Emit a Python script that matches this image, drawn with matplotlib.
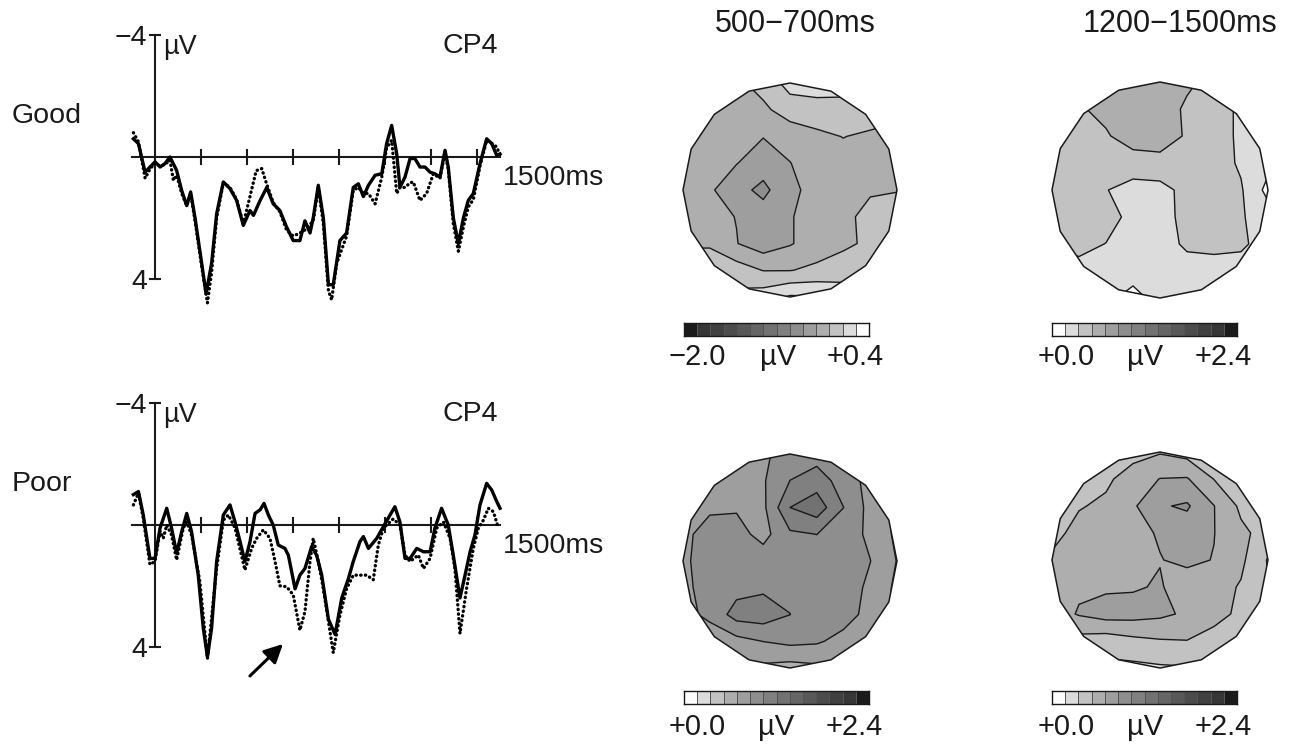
import numpy as np
import matplotlib
matplotlib.use('Agg')
import matplotlib.pyplot as plt
from matplotlib.patches import Polygon
from matplotlib.colors import ListedColormap

plt.rcParams['font.family'] = ['Liberation Sans', 'DejaVu Sans']

# ---- ERP waveforms at CP4, (time ms, amplitude uV), negative up
good_solid = [(-94, -0.6), (-72, -0.44), (-43, 0.5), (-22, 0.33), (0, 0.16), (22, 0.33), (43, 0.22),
              (65, 0.0), (94, 0.44), (116, 1.1), (138, 1.6), (155, 1.15), (174, 2.0), (203, 3.5),
              (222, 4.5), (246, 3.5), (268, 1.87), (297, 0.82), (326, 1.04), (355, 1.43), (384, 2.25),
              (413, 1.76), (428, 1.92), (457, 1.43), (486, 1.0), (514, 1.54), (543, 1.76), (572, 2.3),
              (601, 2.75), (630, 2.75), (652, 2.1), (674, 2.5), (688, 2.0), (710, 0.93), (732, 2.0),
              (754, 4.2), (775, 4.2), (804, 2.75), (833, 2.5), (862, 1.0), (884, 0.88), (906, 1.3),
              (928, 0.93), (957, 0.6), (986, 0.55), (1007, -0.44), (1029, -1.04), (1051, -0.1),
              (1065, 1.0), (1087, 0.66), (1109, 0.05), (1130, 0.05), (1152, 0.33), (1174, 0.33),
              (1196, 0.5), (1217, 0.55), (1239, 0.66), (1261, -0.22), (1275, 0.33), (1297, 2.0),
              (1319, 2.85), (1341, 2.0), (1362, 1.43), (1384, 1.2), (1413, 0.22), (1442, -0.6),
              (1464, -0.44), (1486, -0.05), (1500, -0.1)]
good_dotted = [(-94, -0.8), (-72, -0.5), (-43, 0.7), (-22, 0.4), (0, 0.2), (22, 0.3), (43, 0.25),
               (65, 0.1), (80, 0.77), (94, 0.6), (116, 1.2), (138, 1.6), (155, 1.2), (174, 2.1),
               (203, 3.6), (228, 4.8), (246, 3.8), (268, 2.0), (297, 0.85), (326, 1.0), (355, 1.4),
               (384, 2.2), (413, 1.3), (440, 0.45), (464, 0.38), (486, 0.9), (514, 1.5), (543, 1.8),
               (572, 2.4), (601, 2.6), (630, 2.5), (652, 2.4), (665, 2.3), (688, 2.1), (710, 1.0),
               (732, 2.2), (754, 4.4), (768, 4.7), (790, 3.5), (833, 2.6), (862, 1.1), (884, 1.0),
               (906, 1.2), (928, 1.2), (957, 1.54), (986, 0.66), (1007, -0.3), (1029, -0.55),
               (1051, 1.2), (1065, 1.0), (1087, 1.0), (1109, 0.85), (1123, 0.82), (1152, 1.43),
               (1181, 1.2), (1210, 0.55), (1239, 0.7), (1261, -0.16), (1275, 0.4), (1297, 2.2),
               (1319, 3.1), (1341, 2.3), (1362, 1.65), (1384, 1.4), (1413, 0.3), (1442, -0.55),
               (1464, -0.45), (1486, -0.33), (1500, -0.05)]
poor_solid = [(-94, -1.0), (-72, -1.1), (-51, -0.33), (-22, 1.1), (0, 1.1), (22, 0.1), (51, -0.55),
              (72, 0.1), (94, 0.93), (116, 0.22), (138, -0.38), (159, 0.22), (188, 1.65), (210, 3.4),
              (228, 4.34), (246, 3.4), (268, 1.2), (297, -0.33), (326, -0.66), (348, -0.1), (370, 0.55),
              (391, 1.2), (413, 0.55), (435, -0.38), (457, -0.5), (474, -0.71), (493, -0.33), (514, 0.0),
              (536, 0.66), (565, 0.77), (580, 1.0), (609, 2.1), (630, 1.65), (652, 1.43), (681, 0.71),
              (703, 1.0), (725, 1.65), (754, 3.1), (783, 3.6), (812, 2.4), (841, 1.76), (862, 1.2),
              (891, 0.55), (906, 0.38), (928, 0.77), (964, 0.44), (993, 0.05), (1022, -0.33),
              (1043, -0.6), (1065, -0.1), (1087, 1.1), (1109, 1.1), (1138, 0.77), (1167, 0.88),
              (1196, 0.88), (1217, 0.1), (1246, -0.55), (1275, 0.0), (1297, 1.0), (1326, 2.4),
              (1348, 1.65), (1370, 0.88), (1391, 0.33), (1413, -0.66), (1442, -1.37), (1464, -1.15),
              (1486, -0.77), (1500, -0.55)]
poor_dotted = [(-94, -0.66), (-72, -1.05), (-51, -0.22), (-22, 1.3), (0, 1.2), (22, 0.2), (36, 0.44),
               (51, 0.0), (72, 0.33), (94, 1.15), (123, 0.1), (138, -0.1), (159, 0.33), (195, 1.86),
               (228, 4.4), (268, 1.43), (297, -0.16), (319, -0.33), (348, 0.1), (391, 1.48), (420, 0.77),
               (442, 0.44), (471, 0.16), (500, 0.44), (522, 1.2), (543, 2.0), (572, 2.03), (601, 2.3),
               (630, 3.46), (652, 2.85), (674, 1.2), (688, 0.44), (710, 1.2), (732, 2.1), (775, 4.2),
               (804, 2.97), (833, 2.1), (862, 1.65), (891, 1.65), (920, 1.65), (949, 1.8), (971, 0.66),
               (993, 0.1), (1036, -0.2), (1065, 0.0), (1087, 0.99), (1109, 1.2), (1145, 0.99),
               (1167, 1.43), (1196, 1.1), (1225, 0.1), (1254, -0.1), (1283, 0.44), (1304, 1.43),
               (1326, 3.57), (1355, 2.08), (1384, 0.77), (1406, 0.1), (1428, -0.16), (1449, -0.55),
               (1471, -0.44), (1493, 0.1)]

# ---- topographic maps: 9x9 grid of amplitudes (uV), rows front->back of scalp
map_good_early = [
    [-0.2, -0.2, -0.15, -0.05, 0.12, 0.15, 0.12, 0.0, -0.05],
    [-0.2, -0.2, -0.15, -0.15, -0.03, -0.02, 0.0, 0.0, -0.05],
    [-0.2, -0.2, -0.22, -0.28, -0.22, -0.15, -0.11, -0.15, -0.18],
    [-0.2, -0.25, -0.28, -0.38, -0.29, -0.2, -0.18, -0.17, -0.17],
    [-0.2, -0.26, -0.4, -0.5, -0.33, -0.22, -0.16, -0.13, -0.12],
    [-0.2, -0.24, -0.29, -0.38, -0.3, -0.2, -0.15, -0.07, -0.05],
    [-0.15, -0.15, -0.28, -0.38, -0.3, -0.2, -0.15, -0.08, -0.03],
    [0.06, 0.06, -0.03, -0.12, -0.12, -0.08, -0.02, 0.06, 0.0],
    [0.08, 0.1, 0.1, 0.15, 0.25, 0.24, 0.15, 0.1, 0.05]]
map_good_late = [
    [0.43, 0.45, 0.5, 0.58, 0.62, 0.55, 0.45, 0.4, 0.35],
    [0.45, 0.5, 0.55, 0.62, 0.62, 0.48, 0.45, 0.3, 0.25],
    [0.45, 0.48, 0.5, 0.58, 0.58, 0.5, 0.45, 0.3, 0.25],
    [0.45, 0.45, 0.45, 0.45, 0.47, 0.45, 0.42, 0.32, 0.22],
    [0.45, 0.5, 0.35, 0.27, 0.28, 0.4, 0.42, 0.36, 0.12],
    [0.45, 0.45, 0.4, 0.3, 0.27, 0.4, 0.44, 0.36, 0.25],
    [0.35, 0.38, 0.34, 0.28, 0.3, 0.36, 0.37, 0.36, 0.3],
    [0.3, 0.3, 0.28, 0.26, 0.27, 0.3, 0.3, 0.3, 0.3],
    [0.25, 0.25, 0.22, 0.1, 0.25, 0.28, 0.28, 0.28, 0.28]]
map_poor_early = [
    [0.8, 0.8, 0.8, 0.82, 0.95, 0.95, 0.8, 0.75, 0.7],
    [0.8, 0.8, 0.8, 0.84, 1.03, 1.12, 0.95, 0.8, 0.72],
    [0.8, 0.82, 0.84, 0.82, 1.2, 1.3, 1.03, 0.8, 0.65],
    [0.8, 0.95, 0.92, 0.8, 1.0, 1.03, 0.95, 0.82, 0.65],
    [0.82, 0.95, 0.95, 0.95, 0.95, 0.95, 0.93, 0.86, 0.68],
    [0.8, 0.95, 0.97, 1.0, 1.0, 0.97, 0.95, 0.82, 0.65],
    [0.8, 0.9, 1.1, 1.12, 1.03, 0.95, 0.93, 0.8, 0.65],
    [0.7, 0.75, 0.8, 0.86, 0.9, 0.88, 0.8, 0.75, 0.65],
    [0.6, 0.6, 0.65, 0.65, 0.62, 0.65, 0.68, 0.65, 0.6]]
map_poor_late = [
    [0.45, 0.45, 0.45, 0.45, 0.5, 0.45, 0.43, 0.43, 0.43],
    [0.45, 0.45, 0.48, 0.6, 0.69, 0.7, 0.51, 0.45, 0.43],
    [0.45, 0.5, 0.55, 0.66, 0.84, 0.88, 0.69, 0.48, 0.43],
    [0.45, 0.58, 0.6, 0.64, 0.7, 0.76, 0.69, 0.55, 0.45],
    [0.55, 0.6, 0.62, 0.65, 0.68, 0.72, 0.68, 0.55, 0.33],
    [0.66, 0.66, 0.66, 0.67, 0.7, 0.6, 0.58, 0.5, 0.35],
    [0.6, 0.7, 0.76, 0.75, 0.72, 0.66, 0.57, 0.48, 0.4],
    [0.45, 0.45, 0.42, 0.47, 0.5, 0.51, 0.45, 0.4, 0.35],
    [0.3, 0.3, 0.3, 0.3, 0.32, 0.33, 0.33, 0.33, 0.33]]

grays = ['#1a1a1a', '#363636', '#404040', '#4c4c4c', '#585858', '#656565', '#727272',
         '#808080', '#8e8e8e', '#9e9e9e', '#aeaeae', '#c2c2c2', '#dcdcdc', '#ffffff']
scale_neg = (-2.0, 0.4)
scale_pos = (0.0, 2.4)

W, H = 1298, 747
fig = plt.figure(figsize=(W / 100, H / 100), dpi=100)


def rect(x0, y0, x1, y1):
    return [x0 / W, 1 - y1 / H, (x1 - x0) / W, (y1 - y0) / H]


def ftext(x, y, s, size=20.5, ha='center'):
    fig.text(x / W, 1 - y / H, s, fontsize=size, ha=ha, va='center', color='#1a1a1a')


UV = 30.4  # pixels per microvolt


def erp(zero_y, solid, dotted, name):
    ax = fig.add_axes(rect(132, zero_y - 4.2 * UV, 500, zero_y + 5.0 * UV))
    ax.patch.set_visible(False)
    ax.set_xlim(-100, 1500)
    ax.set_ylim(5.0, -4.2)
    t, v = zip(*solid)
    ax.plot(t, v, color='black', lw=2.4, solid_joinstyle='round', clip_on=False, zorder=3)
    t, v = zip(*dotted)
    ax.plot(t, v, color='black', lw=2.4, linestyle=(0, (0.1, 1.3)), dash_capstyle='round',
            clip_on=False, zorder=3)
    for s in ['top', 'right']:
        ax.spines[s].set_visible(False)
    ax.spines['left'].set_position(('data', 0))
    ax.spines['left'].set_bounds(-4, 4)
    ax.spines['bottom'].set_position(('data', 0))
    ax.spines['bottom'].set_bounds(-100, 1500)
    for s in ['left', 'bottom']:
        ax.spines[s].set_linewidth(1.5)
        ax.spines[s].set_color('#1a1a1a')
    ax.set_xticks(range(200, 1401, 200))
    ax.set_xticklabels([])
    ax.tick_params(axis='x', direction='inout', length=11, width=1.5, color='#1a1a1a')
    ax.set_yticks([-4, 4])
    ax.set_yticklabels(['\u22124', '4'], fontsize=20.5, color='#1a1a1a')
    ax.tick_params(axis='y', direction='inout', length=9, width=1.5, pad=1, color='#1a1a1a')
    ftext(12, zero_y - 41, name, ha='left')
    ftext(163, zero_y - 110, '\u00b5V', size=19.5, ha='left')
    ftext(498, zero_y - 111, 'CP4', ha='right')
    ftext(503, zero_y + 21, '1500ms', ha='left')
    return ax


erp(157, good_solid, good_dotted, 'Good')
ax_poor = erp(525, poor_solid, poor_dotted, 'Poor')
ax_poor.annotate('', xy=(565, 3.85), xytext=(404, 5.03), annotation_clip=False,
                 arrowprops=dict(arrowstyle='-|>', color='black', lw=2.2, mutation_scale=28))


def topomap(cx, cy, r, grid, scale, colors):
    ax = fig.add_axes(rect(cx - 1.1 * r, cy - 1.1 * r, cx + 1.1 * r, cy + 1.1 * r))
    ax.set_xlim(-1.1, 1.1)
    ax.set_ylim(-1.1, 1.1)
    ax.axis('off')
    X, Y = np.meshgrid(np.linspace(-1, 1, 9), np.linspace(1, -1, 9))
    Z = np.array(grid)
    levels = np.linspace(scale[0], scale[1], 15)
    ang = np.deg2rad(np.arange(16) * 22.5 - 90)
    head = Polygon(np.c_[np.cos(ang), np.sin(ang)], closed=True, fc='none',
                   ec='#1a1a1a', lw=1.1, zorder=4)
    ax.add_patch(head)
    cf = ax.contourf(X, Y, Z, levels=levels, colors=colors)
    cf.set_clip_path(head)
    cl = ax.contour(X, Y, Z, levels=levels[1:-1], colors='#1a1a1a', linewidths=1.0,
                    linestyles='solid')
    cl.set_clip_path(head)


topomap(790, 190, 107, map_good_early, scale_neg, grays)
topomap(1160, 190, 108, map_good_late, scale_pos, grays[::-1])
topomap(790, 561, 107, map_poor_early, scale_pos, grays[::-1])
topomap(1160, 560, 108, map_poor_late, scale_pos, grays[::-1])

cmap = ListedColormap(grays)


def colorbar(x0, y0, cells, labels, label_xs, label_y):
    cax = fig.add_axes(rect(x0, y0, x0 + 185, y0 + 13))
    cax.pcolormesh([cells], cmap=cmap, vmin=-0.5, vmax=13.5, edgecolors='#555555', linewidth=0.6)
    cax.set_xticks([])
    cax.set_yticks([])
    for s in cax.spines.values():
        s.set_linewidth(1.0)
        s.set_color('#1a1a1a')
    for lx, lab in zip(label_xs, labels):
        ftext(lx, label_y, lab, size=21)


cells_neg = list(range(14))
cells_pos = list(range(13, -1, -1))
colorbar(684, 323, cells_neg, ['\u22122.0', '\u00b5V', '+0.4'], [697, 778, 855], 357)
colorbar(1052, 323, cells_pos, ['+0.0', '\u00b5V', '+2.4'], [1066, 1145, 1223], 357)
colorbar(684, 691, cells_pos, ['+0.0', '\u00b5V', '+2.4'], [697, 776, 854], 727)
colorbar(1052, 691, cells_pos, ['+0.0', '\u00b5V', '+2.4'], [1066, 1145, 1223], 727)

ftext(795, 24, '500\u2212700ms', size=22)
ftext(1180, 24, '1200\u22121500ms', size=22)

fig.savefig('out.png', dpi=100, facecolor='white')
